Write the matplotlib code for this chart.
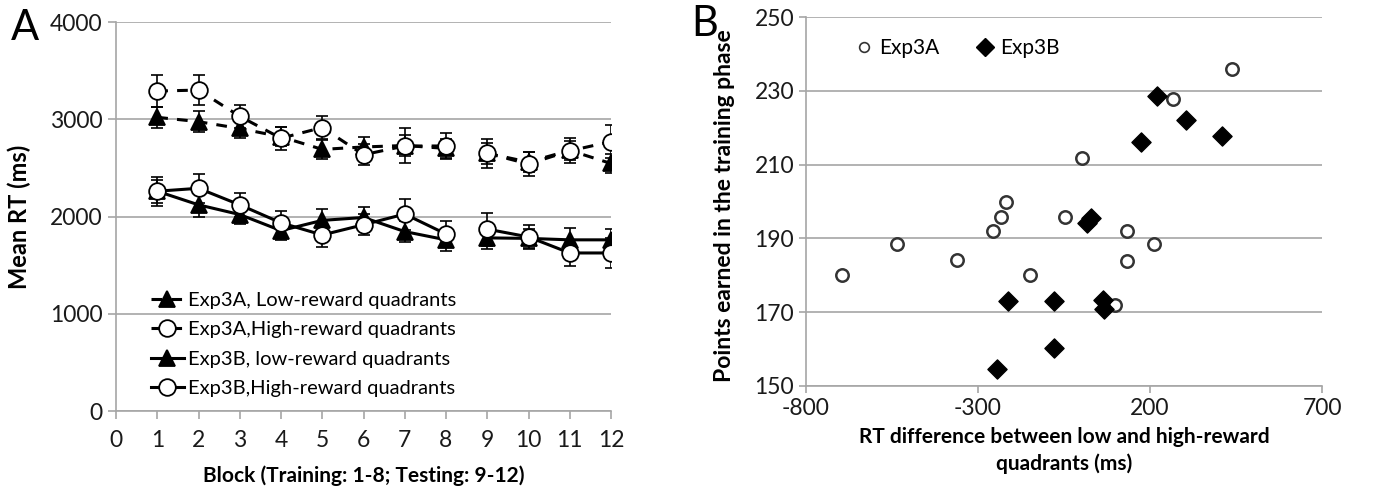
import matplotlib
matplotlib.use("Agg")
import matplotlib.pyplot as plt
from matplotlib.lines import Line2D

plt.rcParams['font.family'] = ['Lato', 'DejaVu Sans']
plt.rcParams['axes.unicode_minus'] = False

blocks = list(range(1, 13))
exp3a_low = [3020, 2975, 2905, 2820, 2690, 2715, 2730, 2700, 2650, 2560, 2680, 2545]
exp3a_low_err = [110, 110, 100, 100, 100, 100, 110, 100, 110, 100, 100, 100]
exp3a_high = [3290, 3300, 3030, 2805, 2915, 2635, 2725, 2725, 2650, 2540, 2675, 2770]
exp3a_high_err = [160, 150, 120, 120, 120, 110, 180, 130, 150, 120, 130, 170]
exp3b_low = [2260, 2120, 2020, 1855, 1960, 1990, 1845, 1760, 1780, 1775, 1760, 1760]
exp3b_low_err = [120, 120, 100, 100, 120, 110, 110, 110, 110, 100, 120, 110]
exp3b_high = [2260, 2290, 2120, 1935, 1810, 1915, 2025, 1820, 1870, 1790, 1625, 1625]
exp3b_high_err = [150, 150, 120, 120, 120, 110, 160, 130, 170, 120, 130, 150]
legend_labels = ["Exp3A, Low-reward quadrants", "Exp3A,High-reward quadrants",
                 "Exp3B, low-reward quadrants", "Exp3B,High-reward quadrants"]

a_x = [-696, -535, -362, -256, -234, -219, -148, -47, 3, 97, 134, 134, 211, 268, 439]
a_y = [180, 188.4, 184.1, 192, 195.8, 199.8, 180, 195.8, 211.7, 171.9, 192, 184, 188.4, 227.8, 236]
b_x = [-244, -213, -78, -78, 17, 28, 62, 65, 174, 219, 305, 409]
b_y = [154.7, 172.9, 172.9, 160.3, 194.3, 195.4, 173.4, 170.8, 216, 228.6, 222.1, 217.7]

W, H = 1373, 495
fig = plt.figure(figsize=(W / 100, H / 100), dpi=100)

grid_c = '#a6a6a6'
txt_c = '#1a1a1a'
ax = fig.add_axes([116 / W, (H - 411) / H, (611 - 116) / W, (411 - 22) / H])
ax.set_xlim(0, 12)
ax.set_ylim(0, 4000)
ax.set_yticks([0, 1000, 2000, 3000, 4000])
ax.set_xticks(range(0, 13))
ax.yaxis.grid(True, color=grid_c, lw=1.2)
ax.set_axisbelow(True)
for s in ['top', 'right']:
    ax.spines[s].set_visible(False)
for s in ['left', 'bottom']:
    ax.spines[s].set_color(grid_c)
    ax.spines[s].set_linewidth(1.2)
ax.tick_params(axis='both', colors=grid_c, labelcolor=txt_c, labelsize=16.5, length=6, width=1.2)
ax.tick_params(axis='x', pad=8)

dash = (0, (3.5, 3))
series = [
    (exp3a_low, exp3a_low_err, '^', 'black', dash),
    (exp3a_high, exp3a_high_err, 'o', 'white', dash),
    (exp3b_low, exp3b_low_err, '^', 'black', '-'),
    (exp3b_high, exp3b_high_err, 'o', 'white', '-'),
]
handles = []
for vals, errs, mk, fc, ls in series:
    for seg in (slice(0, 8), slice(8, 12)):
        ax.errorbar(blocks[seg], vals[seg], yerr=errs[seg], fmt='none', ecolor='black',
                    elinewidth=1.2, capsize=4.5, capthick=1.2, zorder=3)
        ax.plot(blocks[seg], vals[seg], linestyle=ls, color='black', lw=2.2,
                marker=mk, markersize=12 if mk == 'o' else 11, markerfacecolor=fc,
                markeredgecolor='black', markeredgewidth=1.3, zorder=4)
    handles.append(Line2D([], [], linestyle=ls, color='black', lw=2.2, marker=mk,
                          markersize=12 if mk == 'o' else 11, markerfacecolor=fc,
                          markeredgecolor='black', markeredgewidth=1.3))
ax.legend(handles, legend_labels, loc='lower left', bbox_to_anchor=(0.055, 0.014),
          frameon=False, fontsize=14.5, handlelength=1.6, handletextpad=0.2,
          labelspacing=0.62, borderaxespad=0)
ax.set_ylabel('Mean RT (ms)', fontsize=17, fontweight='bold')
ax.yaxis.set_label_coords(-0.172, 0.5)
ax.set_xlabel('Block (Training: 1-8; Testing: 9-12)', fontsize=15, fontweight='bold', labelpad=10)
fig.text(11 / W, 1 - 28 / H, 'A', fontsize=30, va='center', ha='left')

bx = fig.add_axes([806 / W, (H - 386) / H, (1322 - 806) / W, (386 - 17) / H])
bx.set_xlim(-800, 700)
bx.set_ylim(150, 250)
bx.set_xticks([-800, -300, 200, 700])
bx.set_yticks([150, 170, 190, 210, 230, 250])
bx.yaxis.grid(True, color=grid_c, lw=1.2)
bx.set_axisbelow(True)
for s in ['top', 'right']:
    bx.spines[s].set_visible(False)
for s in ['left', 'bottom']:
    bx.spines[s].set_color(grid_c)
    bx.spines[s].set_linewidth(1.2)
bx.tick_params(axis='both', colors=grid_c, labelcolor=txt_c, labelsize=16.5, length=5, width=1.2)
bx.scatter(a_x, a_y, s=80, marker='o', facecolor='white', edgecolor='#333333', linewidths=1.8, zorder=3)
bx.scatter(b_x, b_y, s=95, marker='D', facecolor='black', edgecolor='black', zorder=3)
sh = [Line2D([], [], ls='none', marker='o', markersize=7, markerfacecolor='white',
             markeredgecolor='#333333', markeredgewidth=1.2),
      Line2D([], [], ls='none', marker='D', markersize=9, markerfacecolor='black',
             markeredgecolor='black')]
bx.legend(sh, ['Exp3A', 'Exp3B'], loc='upper left', bbox_to_anchor=(0.08, 0.965), ncol=2,
          frameon=False, fontsize=15, handlelength=0.8, handletextpad=0.35, columnspacing=1.75,
          borderaxespad=0)
bx.set_ylabel('Points earned in the training phase', fontsize=16.5, fontweight='bold')
bx.yaxis.set_label_coords(-0.138, 0.49)
bx.set_xlabel('RT difference between low and high-reward\nquadrants (ms)', fontsize=15,
              fontweight='bold', labelpad=6, linespacing=1.35)
fig.text(691 / W, 1 - 24 / H, 'B', fontsize=30, va='center', ha='left')

fig.savefig('out.png', dpi=100)
